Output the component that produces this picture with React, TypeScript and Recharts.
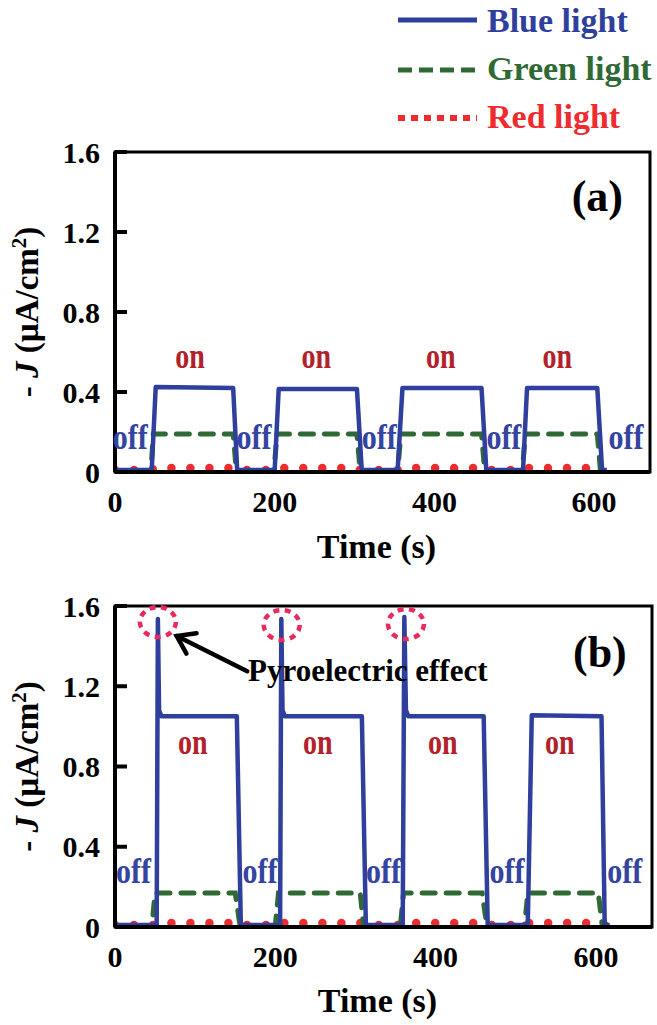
import React from 'react'
import { LineChart, Line, XAxis, YAxis, ReferenceArea, ReferenceDot, ReferenceLine } from 'recharts'

// ============================================
// Data (time in s, current density in µA/cm²)
// ============================================

const X_TICKS = [0, 200, 400, 600]
const Y_TICKS = [0, 0.4, 0.8, 1.2, 1.6]

// (a) photoresponse
const tBlueA = [0, 46, 51, 148, 153, 200, 205, 303, 309, 354, 360, 459, 465, 511, 516, 604, 610, 616]
const jBlueA = [0.01, 0.01, 0.425, 0.42, 0.01, 0.01, 0.415, 0.415, 0.01, 0.01, 0.42, 0.42, 0.01, 0.01, 0.42, 0.42, 0.01, 0.01]
const tGreenA = [0, 45, 48, 148, 152, 199, 203, 303, 307, 354, 358, 459, 463, 510, 514, 604, 608, 613]
const jGreenA = [0.005, 0.005, 0.19, 0.19, 0.005, 0.005, 0.19, 0.19, 0.005, 0.005, 0.19, 0.19, 0.005, 0.005, 0.19, 0.19, 0.005, 0.005]
const tRedA = [0, 46, 50, 148, 152, 200, 204, 303, 307, 354, 358, 459, 463, 510, 514, 604, 608, 612]
const jRedA = [0.01, 0.01, 0.02, 0.02, 0.01, 0.01, 0.02, 0.02, 0.01, 0.01, 0.02, 0.02, 0.01, 0.01, 0.02, 0.02, 0.01, 0.01]

// (b) photoresponse with pyroelectric spikes
const tBlueB = [0, 52, 53.5, 55, 58, 152, 157, 206, 207.5, 209, 212, 308, 313, 359, 361, 363, 366, 460, 465, 515, 520, 607, 611, 617]
const jBlueB = [0.01, 0.01, 1.535, 1.08, 1.05, 1.05, 0.01, 0.01, 1.535, 1.08, 1.05, 1.05, 0.01, 0.01, 1.545, 1.08, 1.05, 1.05, 0.01, 0.01, 1.055, 1.05, 0.01, 0.01]
const tGreenB = [0, 46, 50, 150, 156, 200, 204, 306, 310, 356, 360, 458, 464, 511, 515, 603, 608, 615]
const jGreenB = [0.005, 0.005, 0.17, 0.17, 0.005, 0.005, 0.17, 0.17, 0.005, 0.005, 0.17, 0.17, 0.005, 0.005, 0.17, 0.17, 0.005, 0.005]
const tRedB = [0, 48, 52, 150, 155, 202, 206, 306, 310, 357, 361, 459, 464, 512, 516, 604, 608, 612]
const jRedB = [0.01, 0.01, 0.02, 0.02, 0.01, 0.01, 0.02, 0.02, 0.01, 0.01, 0.02, 0.02, 0.01, 0.01, 0.02, 0.02, 0.01, 0.01]

// annotation anchors
const onA_t = [94, 252, 408, 554]
const onA_j = 0.52
const offA_t = [19, 174, 331, 487, 640]
const offA_j = 0.115
const onB_t = [97, 253, 409, 555]
const onB_j = 0.86
const offB_t = [23, 181, 335, 489, 636]
const offB_j = 0.22
const peakB_t = [53.5, 208, 363]
const peakB_j = [1.52, 1.505, 1.51]

// ============================================
// Styles
// ============================================

const FONT = '"Liberation Serif", "Times New Roman", serif'
const BLUE = '#2f3f9d'
const GREEN = '#2f6a35'
const RED = '#ee2b2e'
const ON_C = '#b3222b'
const OFF_C = '#3444a0'
const PINK = '#e92a5c'

const rows = (t: number[], j: number[]) => t.map((v, i) => ({ t: v, j: j[i] }))

const fmtY = (v: number) => (v === 0 ? '0' : v.toFixed(1))

const YTick = (props: any) => {
  const { x, y, payload } = props
  return (
    <g>
      <line x1={x + 15} x2={x + 27} y1={y} y2={y} stroke="#000" strokeWidth={4} />
      <text x={x} y={y} dy="0.35em" textAnchor="end" fontSize={30} fontWeight={700} fontFamily={FONT} fill="#000">
        {fmtY(payload.value)}
      </text>
    </g>
  )
}

const yLabel = (p: any) => {
  const vb = p.viewBox || { x: 0, y: 0, width: 115, height: 320 }
  const cy = vb.y + vb.height / 2
  return (
    <text transform={`translate(38, ${cy}) rotate(-90)`} textAnchor="middle" fontSize={33} fontWeight={700} fontFamily={FONT} fill="#000">
      <tspan>- </tspan>
      <tspan fontStyle="italic">J</tspan>
      <tspan> (µA/cm</tspan>
      <tspan fontSize={21} dy={-12}>2</tspan>
      <tspan dy={12}>)</tspan>
    </text>
  )
}

const xLabel = (dy: number) => (p: any) => {
  const vb = p.viewBox
  return (
    <text x={vb.x + vb.width / 2 - 6} y={vb.y + vb.height + dy} textAnchor="middle" fontSize={34} fontWeight={700} fontFamily={FONT} fill="#000">
      Time (s)
    </text>
  )
}

const stretchedText = (txt: string, color: string, size: number, sy: number) => (p: any) => (
  <text transform={`translate(${p.cx},${p.cy}) scale(1,${sy})`} textAnchor="middle" fontSize={size} fontWeight={700} fontFamily={FONT} fill={color}>
    {txt}
  </text>
)

const plainText = (txt: string, size: number, anchor: string) => (p: any) => (
  <text x={p.cx} y={p.cy} textAnchor={anchor} fontSize={size} fontWeight={700} fontFamily={FONT} fill="#000">
    {txt}
  </text>
)

const peakRing = (p: any) => (
  <ellipse cx={p.cx} cy={p.cy} rx={18} ry={15} fill="none" stroke={PINK} strokeWidth={4.5} strokeDasharray="6 5.5" />
)

const arrow = (p: any) => {
  const { x1, y1, x2, y2 } = p
  const a = Math.atan2(y2 - y1, x2 - x1)
  const len = 20
  const s = 0.6
  const h1x = x2 - len * Math.cos(a - s)
  const h1y = y2 - len * Math.sin(a - s)
  const h2x = x2 - len * Math.cos(a + s)
  const h2y = y2 - len * Math.sin(a + s)
  return (
    <g stroke="#000" strokeWidth={4.5} fill="none" strokeLinecap="round">
      <line x1={x1} y1={y1} x2={x2} y2={y2} />
      <polyline points={`${h1x},${h1y} ${x2},${y2} ${h2x},${h2y}`} strokeLinejoin="miter" />
    </g>
  )
}

const onShape = stretchedText('on', ON_C, 28, 1.25)
const offShape = stretchedText('off', OFF_C, 30, 1.2)

// ============================================
// Legend
// ============================================

const Legend = () => (
  <svg width={657} height={145} style={{ position: 'absolute', left: 0, top: 0 }}>
    <line x1={398} x2={477} y1={20} y2={20} stroke={BLUE} strokeWidth={5} />
    <text x={487} y={32} fontSize={34} fontWeight={700} fontFamily={FONT} fill={BLUE}>Blue light</text>
    <line x1={398} x2={477} y1={70} y2={70} stroke={GREEN} strokeWidth={5} strokeDasharray="14 7" />
    <text x={487} y={80} fontSize={34} fontWeight={700} fontFamily={FONT} fill={GREEN}>Green light</text>
    <line x1={398} x2={477} y1={118} y2={118} stroke={RED} strokeWidth={6} strokeDasharray="7 6" />
    <text x={487} y={128} fontSize={34} fontWeight={700} fontFamily={FONT} fill={RED}>Red light</text>
  </svg>
)

// ============================================
// Main
// ============================================

export default function App() {
  const axisCommon = {
    stroke: '#000',
  }

  const renderSeries = (red: any[], green: any[], blue: any[]) => [
    <Line key="red" data={red} dataKey="j" type="linear" stroke={RED} strokeWidth={8.5} strokeDasharray="0 19" strokeLinecap="round" dot={false} activeDot={false} isAnimationActive={false} />,
    <Line key="green" data={green} dataKey="j" type="linear" stroke={GREEN} strokeWidth={5} strokeDasharray="13 11" strokeLinecap="round" dot={false} activeDot={false} isAnimationActive={false} />,
    <Line key="blue" data={blue} dataKey="j" type="linear" stroke={BLUE} strokeWidth={4.5} strokeLinejoin="round" dot={false} activeDot={false} isAnimationActive={false} />,
  ]

  const axes = (xdy: number) => [
    <XAxis
      key="x"
      type="number"
      dataKey="t"
      domain={[0, 670]}
      ticks={X_TICKS}
      allowDataOverflow
      height={40}
      tickSize={0}
      tickMargin={19}
      tickLine={false}
      axisLine={{ ...axisCommon, strokeWidth: 4 }}
      tick={{ fill: '#000', fontSize: 30, fontWeight: 700, fontFamily: FONT }}
      label={{ content: xLabel(xdy) }}
    />,
    <YAxis
      key="y"
      type="number"
      domain={[0, 1.6]}
      ticks={Y_TICKS}
      allowDataOverflow
      width={115}
      tickSize={0}
      tickMargin={15}
      tickLine={false}
      axisLine={{ ...axisCommon, strokeWidth: 4 }}
      tick={<YTick />}
      label={{ content: yLabel }}
    />,
    <ReferenceArea key="frame" x1={0} x2={670} y1={0} y2={1.6} fill="none" stroke="#000" strokeWidth={3} strokeOpacity={1} />,
  ]

  return (
    <div style={{ position: 'absolute', left: 0, top: 0, width: 657, height: 1025, background: '#fff', overflow: 'hidden' }}>
      <Legend />

      {/* Panel (a) */}
      <div style={{ position: 'absolute', left: 0, top: 0 }}>
        <LineChart width={657} height={575} margin={{ top: 152, right: 7, left: 0, bottom: 63 }}>
          {axes(46)}
          {renderSeries(rows(tRedA, jRedA), rows(tGreenA, jGreenA), rows(tBlueA, jBlueA))}
          {onA_t.map((t) => (
            <ReferenceDot key={`on-a-${t}`} x={t} y={onA_j} r={1} shape={onShape} />
          ))}
          {offA_t.map((t) => (
            <ReferenceDot key={`off-a-${t}`} x={t} y={offA_j} r={1} shape={offShape} />
          ))}
          <ReferenceDot x={604} y={1.305} r={1} shape={plainText('(a)', 44, 'middle')} />
        </LineChart>
      </div>

      {/* Panel (b) */}
      <div style={{ position: 'absolute', left: 0, top: 580 }}>
        <LineChart width={657} height={445} margin={{ top: 26, right: 5, left: 0, bottom: 58 }}>
          {axes(45)}
          {renderSeries(rows(tRedB, jRedB), rows(tGreenB, jGreenB), rows(tBlueB, jBlueB))}
          {onB_t.map((t) => (
            <ReferenceDot key={`on-b-${t}`} x={t} y={onB_j} r={1} shape={onShape} />
          ))}
          {offB_t.map((t) => (
            <ReferenceDot key={`off-b-${t}`} x={t} y={offB_j} r={1} shape={offShape} />
          ))}
          {peakB_t.map((t, i) => (
            <ReferenceDot key={`ring-${t}`} x={t} y={peakB_j[i]} r={16} shape={peakRing} />
          ))}
          <ReferenceLine segment={[{ x: 165, y: 1.275 }, { x: 77, y: 1.45 }]} shape={arrow} />
          <ReferenceDot x={166} y={1.225} r={1} shape={plainText('Pyroelectric effect', 31, 'start')} />
          <ReferenceDot x={605} y={1.295} r={1} shape={plainText('(b)', 44, 'middle')} />
        </LineChart>
      </div>
    </div>
  )
}
